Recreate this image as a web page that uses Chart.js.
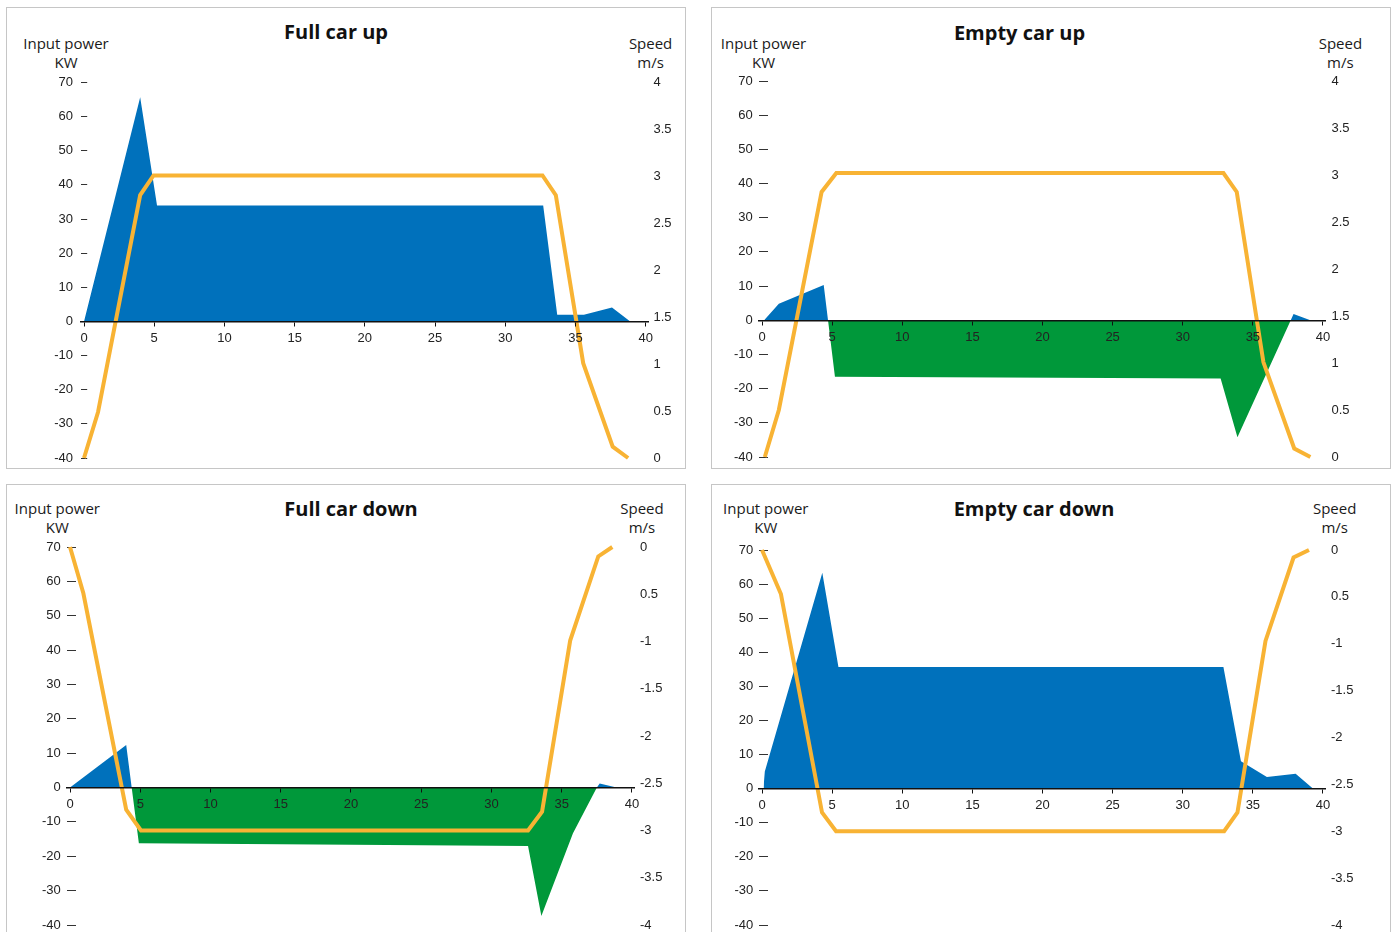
<!DOCTYPE html>
<html>
<head>
<meta charset="utf-8">
<script src="https://cdn.jsdelivr.net/npm/chart.js@4.4.1/dist/chart.umd.min.js"></script>
<style>
  html, body { margin:0; padding:0; background:#fff; }
  body { position:relative; width:1397px; height:932px; overflow:hidden; font-family:'Open Sans','Noto Sans',sans-serif; }
  .panel { position:absolute; box-sizing:border-box; border:1.5px solid #c6c6c6; }
  canvas.ch { position:absolute; left:0; top:0; pointer-events:none; }
  .t { position:absolute; white-space:nowrap; transform:translateX(-50%); text-align:center; color:#111; }
  .title { font-size:20px; font-weight:700; line-height:20px; }
  .ax { font-size:15px; line-height:19px; color:#1a1a1a; }
</style>
</head>
<body>
<div class="panel" style="left:6px;top:7px;width:680px;height:462px;"></div>
<div class="panel" style="left:711px;top:7px;width:680px;height:462px;"></div>
<div class="panel" style="left:6px;top:484px;width:680px;height:470px;"></div>
<div class="panel" style="left:711px;top:484px;width:680px;height:470px;"></div>

<div class="t title" style="left:336px;top:22px;">Full car up</div>
<div class="t ax" style="left:66px;top:34px;">Input power<br>KW</div>
<div class="t ax" style="left:650.6px;top:34px;">Speed<br>m/s</div>

<div class="t title" style="left:1019.5px;top:23px;">Empty car up</div>
<div class="t ax" style="left:763.5px;top:34px;">Input power<br>KW</div>
<div class="t ax" style="left:1340.4px;top:34px;">Speed<br>m/s</div>

<div class="t title" style="left:351px;top:499px;">Full car down</div>
<div class="t ax" style="left:57.3px;top:499px;">Input power<br>KW</div>
<div class="t ax" style="left:642px;top:499px;">Speed<br>m/s</div>

<div class="t title" style="left:1034px;top:499px;">Empty car down</div>
<div class="t ax" style="left:765.8px;top:499px;">Input power<br>KW</div>
<div class="t ax" style="left:1334.7px;top:499px;">Speed<br>m/s</div>

<canvas class="ch" id="c1" width="1397" height="960"></canvas>
<canvas class="ch" id="c2" width="1397" height="960"></canvas>
<canvas class="ch" id="c3" width="1397" height="960"></canvas>
<canvas class="ch" id="c4" width="1397" height="960"></canvas>

<script>
// ---------- tick values / labels ----------
const timeTicks = [0, 5, 10, 15, 20, 25, 30, 35, 40];
const powerTicks = [-40, -30, -20, -10, 0, 10, 20, 30, 40, 50, 60, 70];
const speedTicksUp = [0, 0.5, 1, 1.5, 2, 2.5, 3, 3.5, 4];
const speedLabelsUp = ['0', '0.5', '1', '1.5', '2', '2.5', '3', '3.5', '4'];
const speedTicksDown = [-4, -3.5, -3, -2.5, -2, -1.5, -1, -0.5, 0];
const speedLabelsDown = ['-4', '-3.5', '-3', '-2.5', '-2', '-1.5', '-1', '0.5', '0'];

// ---------- Full car up ----------
const fullUpPowerTime = [0, 4.0, 5.2, 32.7, 33.7, 35.6, 37.6, 38.9];
const fullUpPower     = [0, 65.7, 34, 34, 2, 2, 4.1, 0];
const fullUpSpeedTime = [0, 1.0, 4.0, 4.95, 32.65, 33.6, 35.55, 37.65, 38.75];
const fullUpSpeed     = [0, 0.49, 2.8, 3.01, 3.01, 2.8, 1.01, 0.12, 0];

// ---------- Empty car up ----------
const emptyUpPowerTime = [0.15, 1.2, 4.4, 5.2, 32.7, 33.9, 37.9, 39.1];
const emptyUpPower     = [0, 4.8, 10.3, -16.5, -17, -34.2, 1.8, 0];
const emptyUpSpeedTime = [0.2, 1.2, 4.25, 5.3, 32.9, 33.85, 35.75, 37.95, 39.1];
const emptyUpSpeed     = [0, 0.5, 2.82, 3.02, 3.02, 2.82, 1.01, 0.09, 0];

// ---------- Full car down ----------
const fullDownPowerTime = [0, 4.0, 4.9, 32.6, 33.55, 35.8, 37.5, 37.7, 38.9];
const fullDownPower     = [0, 12.4, -16.2, -17, -37.4, -13.3, 0, 1.2, 0];
const fullDownSpeedTime = [0, 0.95, 4.0, 5.05, 32.6, 33.6, 35.6, 37.6, 38.6];
const fullDownSpeed     = [0, -0.49, -2.78, -3, -3, -2.8, -0.99, -0.1, 0];

// ---------- Empty car down ----------
const emptyDownPowerTime = [0.1, 0.2, 4.3, 5.45, 32.9, 34.15, 36.0, 38.05, 39.3];
const emptyDownPower     = [0, 5, 63.3, 35.7, 35.7, 8, 3.4, 4.4, 0];
const emptyDownSpeedTime = [0, 1.35, 4.28, 5.28, 32.95, 33.9, 35.9, 37.9, 39.0];
const emptyDownSpeed     = [0, -0.47, -2.8, -3, -3, -2.8, -0.97, -0.08, 0];

// ---------- styles ----------
const BLUE = '#0071bc';
const GREEN = '#00983a';
const ORANGE = '#f8b334';

Chart.defaults.font.family = "'Liberation Sans', Arial, sans-serif";
Chart.defaults.font.size = 13;
Chart.defaults.color = '#222';

function pts(xs, ys) { return xs.map((x, i) => ({ x: x, y: ys[i] })); }

const CW = 1397, CH = 960, LW = 40, RW = 40;

function makeChart(id, d, g) {
  new Chart(document.getElementById(id), {
    type: 'line',
    data: {
      datasets: [
        { data: pts(d.speedTime, d.speed), yAxisID: 'ys', xAxisID: 'x',
          borderColor: ORANGE, borderWidth: 4, pointRadius: 0, fill: false,
          tension: 0, clip: false, order: 0 },
        { data: pts(d.powerTime, d.power), yAxisID: 'y', xAxisID: 'x',
          borderColor: 'rgba(0,0,0,0)', borderWidth: 0, pointRadius: 0, tension: 0,
          fill: { target: 'origin', above: BLUE, below: GREEN }, order: 1 }
      ]
    },
    options: {
      responsive: false,
      animation: false,
      events: [],
      layout: { padding: { left: g.left - LW, right: CW - g.right - RW, top: g.top, bottom: CH - g.bottom } },
      plugins: { legend: { display: false }, tooltip: { enabled: false }, title: { display: false } },
      scales: {
        x: {
          type: 'linear', axis: 'x', position: { y: 0 }, min: -0.2, max: 40.2,
          afterBuildTicks: s => { s.ticks = timeTicks.map(v => ({ value: v })); },
          ticks: { padding: 5, z: 1, autoSkip: false, maxRotation: 0, callback: v => String(v) },
          grid: { drawOnChartArea: false, drawTicks: true, tickLength: 4, color: '#111', lineWidth: 1, z: 1 },
          border: { display: true, color: '#111', width: 1.5, z: 1 }
        },
        y: {
          type: 'linear', axis: 'y', position: 'left', min: -40, max: 70,
          afterBuildTicks: s => { s.ticks = powerTicks.map(v => ({ value: v })); },
          afterFit: s => { s.width = LW; },
          ticks: { padding: g.lpad, autoSkip: false, callback: v => String(v) },
          grid: { drawOnChartArea: false, drawTicks: true, tickLength: g.tl, color: '#333', lineWidth: 1 },
          border: { display: false }
        },
        ys: {
          type: 'linear', axis: 'y', position: 'right', min: d.sMin, max: d.sMax,
          afterBuildTicks: s => { s.ticks = d.sTicks.map(v => ({ value: v })); },
          afterFit: s => { s.width = RW; },
          ticks: { padding: g.rpad, autoSkip: false, callback: (v, i) => d.sLabels[i] },
          grid: { display: false, drawTicks: false, drawOnChartArea: false },
          border: { display: false }
        }
      }
    }
  });
}

makeChart('c1',
  { powerTime: fullUpPowerTime, power: fullUpPower, speedTime: fullUpSpeedTime, speed: fullUpSpeed,
    sMin: 0, sMax: 4, sTicks: speedTicksUp, sLabels: speedLabelsUp },
  { left: 81.2, right: 648.5, top: 82.5, bottom: 458, tl: -6, lpad: 14.2, rpad: 5 });

makeChart('c2',
  { powerTime: emptyUpPowerTime, power: emptyUpPower, speedTime: emptyUpSpeedTime, speed: emptyUpSpeed,
    sMin: 0, sMax: 4, sTicks: speedTicksUp, sLabels: speedLabelsUp },
  { left: 759.2, right: 1325.8, top: 81, bottom: 457, tl: -8.8, lpad: 15.3, rpad: 5.7 });

makeChart('c3',
  { powerTime: fullDownPowerTime, power: fullDownPower, speedTime: fullDownSpeedTime, speed: fullDownSpeed,
    sMin: -4, sMax: 0, sTicks: speedTicksDown, sLabels: speedLabelsDown },
  { left: 67.2, right: 634.8, top: 547, bottom: 925, tl: -8.8, lpad: 15.3, rpad: 5.2 });

makeChart('c4',
  { powerTime: emptyDownPowerTime, power: emptyDownPower, speedTime: emptyDownSpeedTime, speed: emptyDownSpeed,
    sMin: -4, sMax: 0, sTicks: speedTicksDown, sLabels: speedLabelsDown },
  { left: 759.2, right: 1325.8, top: 550, bottom: 925, tl: -8.8, lpad: 14.7, rpad: 5.2 });
</script>
</body>
</html>
